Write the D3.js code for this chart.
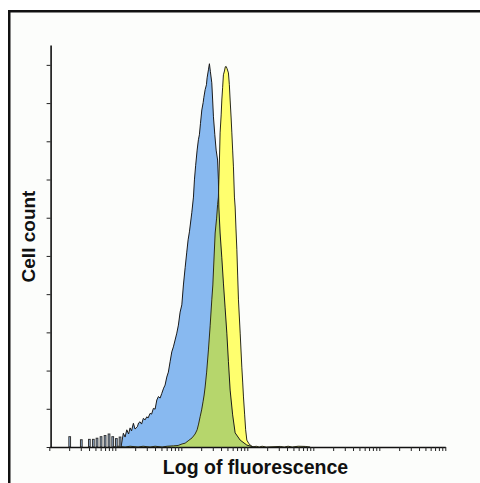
<!DOCTYPE html>
<html><head><meta charset="utf-8">
<script src="https://cdn.jsdelivr.net/npm/d3@7"></script>
<style>html,body{margin:0;padding:0;background:#fff;}svg{display:block;}</style>
</head><body>
<script>
// x values: log10 of fluorescence (decades), y: cell count
const spikeLogX = [0.309,0.485,0.607,0.667,0.723,0.784,0.845,0.905,0.961,1.016,1.072];
const spikeCount = [2.7,1.9,2.0,2.0,2.3,2.7,3.0,3.4,2.7,2.2,2.6];

const blueLogX = [1.087,1.122,1.148,1.174,1.201,1.224,1.246,1.274,1.299,1.334,1.353,1.375,1.398,1.425,1.451,1.477,1.497,1.527,1.550,1.577,1.603,1.629,1.653,1.679,1.704,1.732,1.754,1.780,1.804,1.830,1.856,1.880,1.906,1.932,1.956,1.982,2.008,2.032,2.058,2.083,2.103,2.123,2.159,2.184,2.199,2.217,2.240,2.259,2.274,2.290,2.311,2.331,2.341,2.361,2.381,2.391,2.411,2.426,2.441,2.462,2.475,2.487,2.508,2.528,2.550,2.562,2.569,2.588,2.614,2.638,2.664,2.690,2.714,2.740,2.778,2.816,2.892,2.993,3.074,3.120];
const blueCount = [0,3.6,2.6,4.5,3.4,5.0,4.2,6.2,4.7,5.3,6.3,6.6,6.0,7.5,7.1,7.9,7.6,8.8,8.6,10.1,9.9,12.3,13.2,12.8,14.0,15.4,16.2,18.3,19.6,22.3,24.9,26.2,28.0,29.8,31.9,35.3,37.2,42.4,46.9,51.0,54.2,56.3,61.3,65.4,69.9,73.6,77.7,80.4,81.7,84.6,88.2,90.1,91.4,93.5,94.8,96.6,98.7,100.3,98.2,95.3,90.8,86.4,81.7,77.7,75.1,69.9,62.8,56.0,49.5,42.9,36.4,29.8,22.3,14.9,8.4,3.7,1.8,0.5,0.1,0];

const yellowLogX = [0.966,1.042,1.148,1.224,1.345,1.421,1.527,1.603,1.709,1.785,1.880,1.951,2.012,2.058,2.103,2.164,2.209,2.240,2.262,2.285,2.308,2.331,2.346,2.361,2.384,2.411,2.437,2.462,2.478,2.490,2.513,2.535,2.550,2.562,2.578,2.588,2.604,2.614,2.626,2.638,2.654,2.667,2.679,2.694,2.714,2.728,2.740,2.755,2.766,2.778,2.790,2.805,2.816,2.828,2.842,2.854,2.866,2.892,2.917,2.930,2.942,2.960,2.975,2.993,3.020,3.043,3.089,3.134,3.180,3.225,3.286,3.498,3.559,3.619,3.680,3.771,3.877,3.953];
const yellowCount = [0,0.2,0,0.2,0,0.2,0,0.2,0,0.2,0.3,0.4,0.8,1.0,1.6,2.4,3.4,4.5,6.0,7.9,9.7,12.0,13.6,15.7,19.6,25.4,31.7,38.5,42.4,47.1,56.0,59.9,63.4,65.4,75.1,82.2,86.9,90.8,94.0,97.4,98.4,99.5,99.6,99.0,97.9,94.8,90.8,86.1,82.2,77.7,73.3,65.4,62.8,57.3,51.6,45.0,38.5,29.8,20.9,17.0,13.1,8.4,4.5,1.8,1.0,0.5,0,0.2,0,0.2,0,0.15,0,0.2,0,0.2,0.15,0];

const yTickValues = [0,10,20,30,40,50,60,70,80,90,100];
const xDecades = [0,6];
const yMax = 105.2;

const W = 480, H = 483;
const svg = d3.select("body").append("svg").attr("width", W).attr("height", H);

svg.append("rect").attr("x", 9.25).attr("y", 11.25).attr("width", 520).attr("height", 520)
  .attr("fill", "#fcfdfb").attr("stroke", "#111").attr("stroke-width", 2.5);

const x = d3.scaleLinear().domain(xDecades).range([49.3, 445.3]);
const y = d3.scaleLinear().domain([0, yMax]).range([447, 45]);

const blue = blueLogX.map((v, i) => [v, blueCount[i]]);
const yellow = yellowLogX.map((v, i) => [v, yellowCount[i]]);

const area = d3.area().x(d => x(d[0])).y0(y(0)).y1(d => y(d[1]));
const line = d3.line().x(d => x(d[0])).y(d => y(d[1]));

svg.append("defs").append("clipPath").attr("id", "blueClip")
  .append("path").attr("d", area(blue));

svg.append("path").attr("d", area(blue)).attr("fill", "#88b9f0");
svg.append("path").attr("d", area(yellow)).attr("fill", "#ffff6e");
svg.append("path").attr("d", area(yellow)).attr("fill", "#b6d66c").attr("clip-path", "url(#blueClip)");

svg.append("path").attr("d", line(blue)).attr("fill", "none").attr("stroke", "#1a1a1a").attr("stroke-width", 1);
svg.append("path").attr("d", line(yellow)).attr("fill", "none").attr("stroke", "#2a2a1a").attr("stroke-width", 1);

// sparse low-intensity events
const bw = 0.013;
svg.append("g").selectAll("rect").data(spikeLogX).join("rect")
  .attr("x", d => x(d - bw)).attr("width", d => x(d + bw) - x(d - bw))
  .attr("y", (d, i) => y(spikeCount[i])).attr("height", (d, i) => y(0) - y(spikeCount[i]))
  .attr("fill", "#9fbce0").attr("stroke", "#333").attr("stroke-width", 1);

// axes
const logTicks = d3.scaleLog().domain([1, 1e6]).ticks().map(v => Math.log10(v));
const xAxis = svg.append("g").attr("transform", `translate(0,${y(0)})`)
  .call(d3.axisBottom(x).tickValues(logTicks).tickSize(4).tickSizeOuter(0).tickFormat(""));
xAxis.select(".domain").attr("stroke", "#111").attr("stroke-width", 1.6);
xAxis.selectAll(".tick line").attr("stroke", "#222").attr("stroke-width", 1);

const yAxis = svg.append("g").attr("transform", `translate(50.6,0)`)
  .call(d3.axisLeft(y).tickValues(yTickValues).tickSize(4).tickSizeOuter(0).tickFormat(""));
yAxis.select(".domain").attr("stroke", "#111").attr("stroke-width", 1.6);
yAxis.selectAll(".tick line").attr("stroke", "#222").attr("stroke-width", 1);

svg.append("text").attr("x", 255.5).attr("y", 474).attr("text-anchor", "middle")
  .attr("font-family", "Liberation Sans, Arial, sans-serif").attr("font-weight", "bold")
  .attr("font-size", 19.5).attr("fill", "#111").text("Log of fluorescence");

svg.append("text").attr("transform", "translate(35,236.5) rotate(-90)").attr("text-anchor", "middle")
  .attr("font-family", "Liberation Sans, Arial, sans-serif").attr("font-weight", "bold")
  .attr("font-size", 19).attr("fill", "#111").text("Cell count");
</script>
</body></html>
